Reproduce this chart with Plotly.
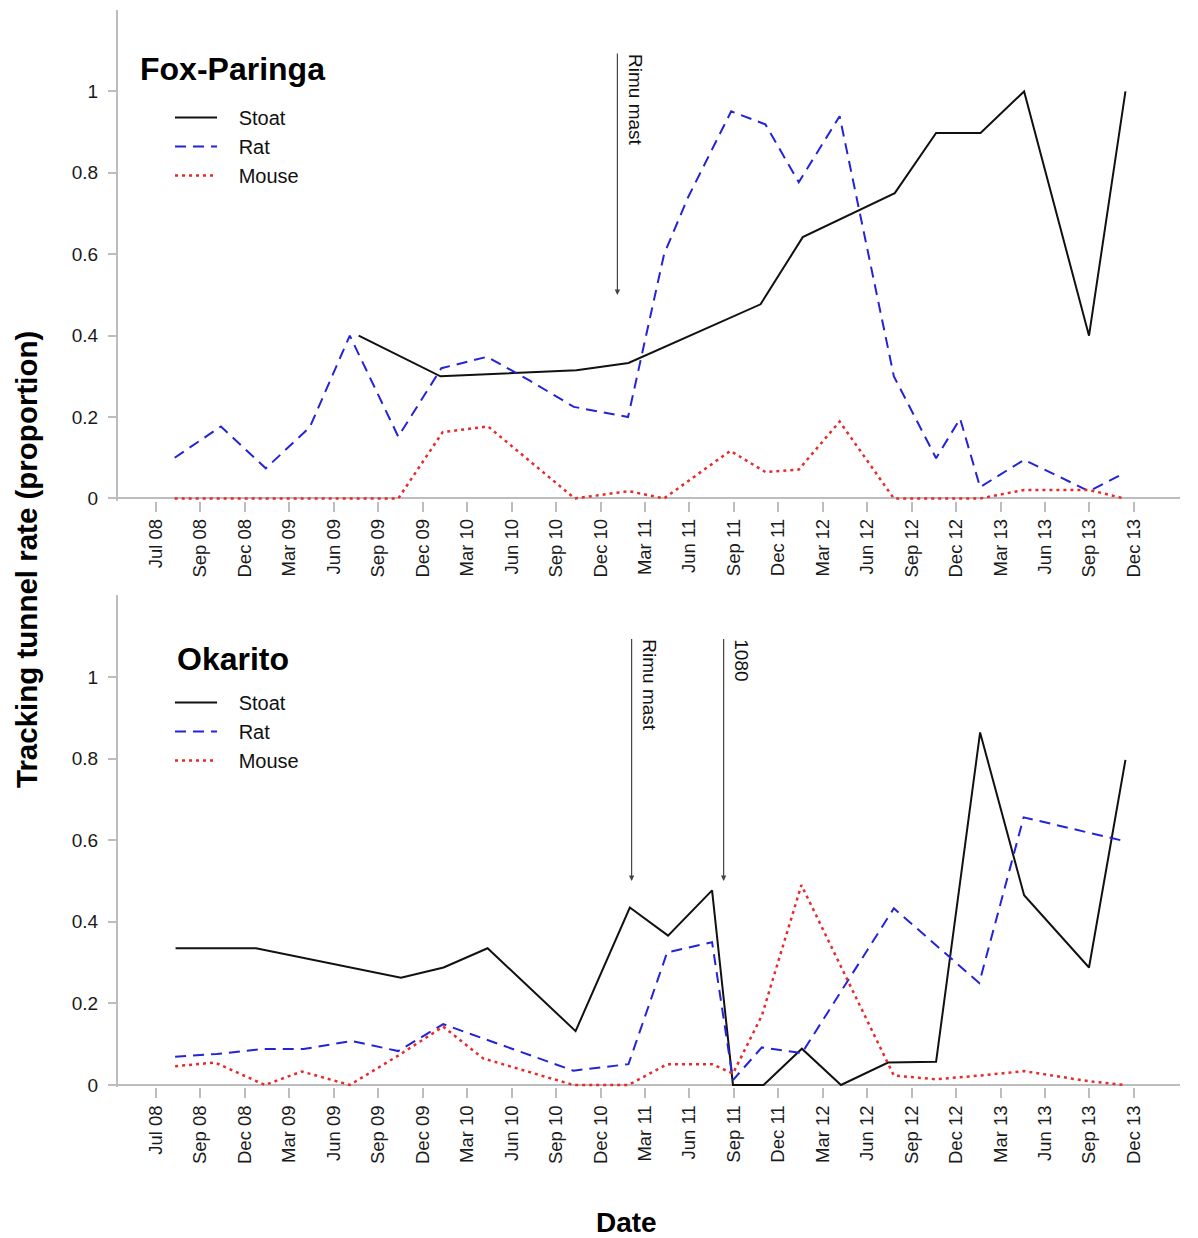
import plotly.graph_objects as go

# ---------------- data ----------------
tick_labels = ["Jul 08", "Sep 08", "Dec 08", "Mar 09", "Jun 09", "Sep 09", "Dec 09",
               "Mar 10", "Jun 10", "Sep 10", "Dec 10", "Mar 11", "Jun 11", "Sep 11",
               "Dec 11", "Mar 12", "Jun 12", "Sep 12", "Dec 12", "Mar 13", "Jun 13",
               "Sep 13", "Dec 13"]
tick_pos = list(range(len(tick_labels)))  # one slot per tick label (quarterly)

# Fox-Paringa (positions in tick-slot units)
fp_stoat_t = [4.56, 6.40, 9.46, 10.63, 13.6, 14.55, 16.62, 17.55, 18.55, 19.53, 20.99, 21.81]
fp_stoat_v = [0.40, 0.30, 0.315, 0.333, 0.477, 0.642, 0.75, 0.898, 0.898, 1.0, 0.40, 1.0]

fp_rat_t = [0.42, 1.46, 2.47, 3.46, 4.36, 5.45, 6.42, 7.45, 8.4, 9.4, 10.62, 11.43, 11.97,
            12.94, 13.71, 14.46, 15.38, 16.6, 17.55, 18.09, 18.54, 19.53, 20.99, 21.78]
fp_rat_v = [0.10, 0.177, 0.074, 0.175, 0.40, 0.152, 0.32, 0.348, 0.29, 0.225, 0.20, 0.60, 0.74,
            0.951, 0.919, 0.777, 0.939, 0.30, 0.099, 0.196, 0.028, 0.095, 0.018, 0.062]

fp_mouse_t = [0.42, 1.46, 2.47, 3.46, 4.36, 5.45, 6.45, 7.47, 9.42, 10.64, 11.43, 12.92,
              13.71, 14.46, 15.38, 16.6, 17.55, 18.09, 18.54, 19.53, 20.99, 21.78]
fp_mouse_v = [0, 0, 0, 0, 0, 0, 0.163, 0.177, 0, 0.018, 0, 0.117,
              0.065, 0.071, 0.189, 0, 0, 0, 0, 0.021, 0.021, 0]

# Okarito
ok_stoat_t = [0.44, 2.25, 5.51, 6.47, 7.46, 8.33, 9.44, 10.66, 11.52, 12.51, 12.98, 13.67,
              14.53, 15.41, 16.47, 17.55, 18.54, 19.53, 20.99, 21.81]
ok_stoat_v = [0.335, 0.335, 0.263, 0.288, 0.335, 0.246, 0.132, 0.435, 0.366, 0.477, 0, 0,
              0.089, 0, 0.055, 0.057, 0.864, 0.465, 0.288, 0.797]

ok_rat_t = [0.43, 1.37, 2.38, 3.32, 4.40, 5.45, 6.46, 7.46, 9.39, 10.63, 11.5, 12.51, 12.98,
            13.63, 14.53, 16.6, 18.52, 19.52, 21.7]
ok_rat_v = [0.069, 0.076, 0.088, 0.088, 0.108, 0.083, 0.149, 0.11, 0.035, 0.051, 0.325, 0.35, 0.012,
            0.092, 0.078, 0.433, 0.25, 0.656, 0.60]

ok_mouse_t = [0.43, 1.33, 2.45, 3.28, 4.36, 5.45, 6.46, 7.36, 9.39, 10.63, 11.5, 12.51, 12.98,
              13.63, 14.52, 16.6, 17.55, 18.54, 19.53, 20.99, 21.78]
ok_mouse_v = [0.046, 0.055, 0, 0.033, 0, 0.072, 0.143, 0.065, 0, 0, 0.051, 0.051, 0.028,
              0.17, 0.49, 0.023, 0.014, 0.023, 0.034, 0.009, 0]

series_names = ["Stoat", "Rat", "Mouse"]

y_ticks = [0, 0.2, 0.4, 0.6, 0.8, 1]
y_tick_text = ["0", "0.2", "0.4", "0.6", "0.8", "1"]

fp_events = [(10.38, "Rimu mast")]
ok_events = [(10.70, "Rimu mast"), (12.77, "1080")]

# ---------------- styling ----------------
W, H = 1198, 1238
FONT = "Liberation Sans, Arial, sans-serif"
C_STOAT, C_RAT, C_MOUSE = "#111111", "#2323d8", "#e82a2a"
AXIS_GRAY = "#bdbdbd"

x_left_px, x_right_px = 108, 1180
tick0_px, tick_step_px = 156, 44.45
x_range = [(x_left_px - tick0_px) / tick_step_px, (x_right_px - tick0_px) / tick_step_px]
y_axis_px = 117

def ydom(top_px, bottom_px):
    return [1 - bottom_px / H, 1 - top_px / H]

fig = go.Figure()

NB = "\u00a0\u00a0\u00a0"  # small gap between legend sample and its label

def add_series(t, v, name, color, dash, width, xa, ya, legend):
    fig.add_trace(go.Scatter(
        x=t, y=v, mode="lines", name=NB + name,
        line=dict(color=color, dash=dash, width=width),
        xaxis=xa, yaxis=ya, legend=legend, showlegend=True,
        hoverinfo="x+y",
    ))

styles = [(C_STOAT, "solid", 2), (C_RAT, "11px,7px", 2), (C_MOUSE, "3px,4px", 2.5)]

for (xa, ya, leg, data) in [
    ("x", "y", "legend", [(fp_stoat_t, fp_stoat_v), (fp_rat_t, fp_rat_v), (fp_mouse_t, fp_mouse_v)]),
    ("x2", "y2", "legend2", [(ok_stoat_t, ok_stoat_v), (ok_rat_t, ok_rat_v), (ok_mouse_t, ok_mouse_v)]),
]:
    for (t, v), name, (c, d, w) in zip(data, series_names, styles):
        add_series(t, v, name, c, d, w, xa, ya, leg)

xaxis_common = dict(
    range=x_range, tickmode="array", tickvals=tick_pos, ticktext=tick_labels,
    tickangle=-90, ticks="outside", ticklen=10, tickwidth=1.5, tickcolor=AXIS_GRAY,
    showline=False, showgrid=False, zeroline=False, automargin=False,
    tickfont=dict(family=FONT, size=18.5, color="#1a1a1a"),
    domain=[x_left_px / W, x_right_px / W],
)
yaxis_common = dict(
    range=[-0.005, 1.2], tickmode="array", tickvals=y_ticks, ticktext=y_tick_text,
    ticks="outside", ticklen=8, tickwidth=1.5, tickcolor=AXIS_GRAY,
    showline=True, linecolor=AXIS_GRAY, linewidth=2,
    showgrid=False, zeroline=True, zerolinecolor=AXIS_GRAY, zerolinewidth=2,
    automargin=False, anchor="free", position=y_axis_px / W,
    tickfont=dict(family=FONT, size=19, color="#1a1a1a"), ticklabelstandoff=6,
)

legend_common = dict(xanchor="left", yanchor="top", bgcolor="rgba(0,0,0,0)",
                     font=dict(family=FONT, size=20, color="#111"),
                     itemwidth=42, tracegroupgap=0)

fig.update_layout(
    width=W, height=H,
    margin=dict(l=0, r=0, t=0, b=0),
    paper_bgcolor="white", plot_bgcolor="white",
    font=dict(family=FONT, color="#111111"),
    xaxis=dict(**xaxis_common, anchor="y"),
    xaxis2=dict(**xaxis_common, anchor="y2"),
    yaxis=dict(**yaxis_common, domain=ydom(10, 500.5)),
    yaxis2=dict(**yaxis_common, domain=ydom(595.4, 1087)),
    legend=dict(x=170 / W, y=1 - 98 / H, **legend_common),
    legend2=dict(x=170 / W, y=1 - 683 / H, **legend_common),
    showlegend=True,
)

ann = []
ann.append(dict(text="<b>Fox-Paringa</b>", x=138 / W, y=1 - 69 / H, xref="paper", yref="paper",
                xanchor="left", yanchor="middle", showarrow=False,
                font=dict(family=FONT, size=32, color="#000")))
ann.append(dict(text="<b>Okarito</b>", x=175 / W, y=1 - 659 / H, xref="paper", yref="paper",
                xanchor="left", yanchor="middle", showarrow=False,
                font=dict(family=FONT, size=32, color="#000")))
ann.append(dict(text="<b>Tracking tunnel rate (proportion)</b>", x=26 / W, y=1 - 560 / H,
                xref="paper", yref="paper", xanchor="center", yanchor="middle",
                textangle=-90, showarrow=False, font=dict(family=FONT, size=29.5, color="#000")))
ann.append(dict(text="<b>Date</b>", x=626 / W, y=1 - 1222 / H, xref="paper", yref="paper",
                xanchor="center", yanchor="middle", showarrow=False,
                font=dict(family=FONT, size=28, color="#000")))

for (xr, yr, events) in [("x", "y", fp_events), ("x2", "y2", ok_events)]:
    for (t, label) in events:
        ann.append(dict(x=t, y=0.5, xref=xr, yref=yr, ax=t, ay=1.097, axref=xr, ayref=yr,
                        text="", showarrow=True, arrowhead=2, arrowsize=0.9, arrowwidth=1.2,
                        arrowcolor="#444444"))
        ann.append(dict(x=t, y=1.097, xref=xr, yref=yr, text=label, textangle=90,
                        xanchor="left", yanchor="top", xshift=5, showarrow=False,
                        font=dict(family=FONT, size=19, color="#111")))

fig.update_layout(annotations=ann)

fig.write_html("out.html", config={"displayModeBar": False},
               post_script="document.body.style.margin='0';")
